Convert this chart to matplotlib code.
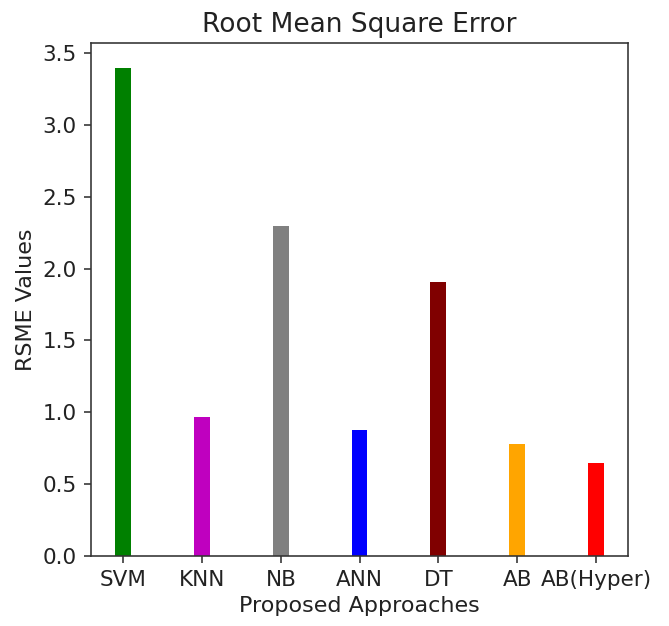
import matplotlib
matplotlib.use("Agg")
import matplotlib.pyplot as plt

categories = ["SVM", "KNN", "NB", "ANN", "DT", "AB", "AB(Hyper)"]
rmse = [3.40, 0.97, 2.30, 0.88, 1.905, 0.78, 0.645]
colors = ["green", "m", "grey", "blue", "maroon", "orange", "red"]

s = 1.45
plt.rcParams["font.family"] = "DejaVu Sans"
fig = plt.figure(figsize=(6.69, 6.26), dpi=100)
ax = fig.add_axes([0.136, 0.112, 0.803, 0.819])
ax.bar(range(len(categories)), rmse, width=0.2, color=colors)
ax.set_xticks(range(len(categories)))
ax.set_xticklabels(categories)
ax.set_title("Root Mean Square Error", fontsize=19, pad=8, color="#222222")
ax.set_xlabel("Proposed Approaches", fontsize=16, labelpad=3 * s, color="#222222")
ax.set_ylabel("RSME Values", fontsize=16, labelpad=3 * s, color="#222222")
ax.tick_params(labelsize=15.5, length=3.5 * s, width=0.8 * s, pad=3.5 * s, colors="#333333", labelcolor="#222222")
for sp in ax.spines.values():
    sp.set_linewidth(0.8 * s)
    sp.set_color("#333333")
fig.savefig("out.png", dpi=100)
